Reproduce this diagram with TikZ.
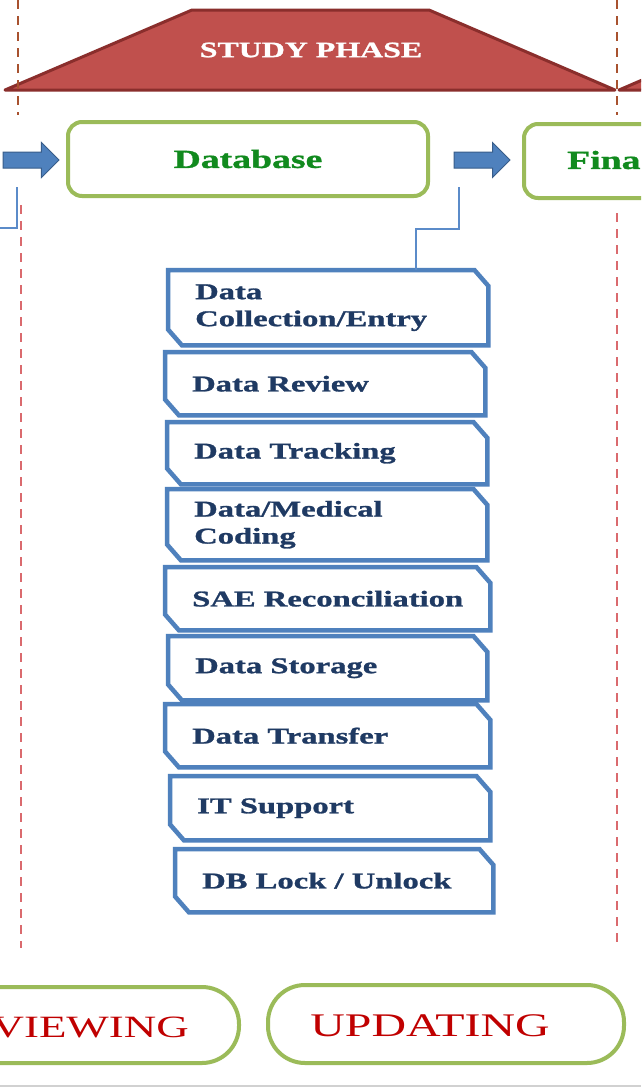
\documentclass[tikz,border=0pt]{standalone}
\usepackage{fontspec}
\setmainfont{Liberation Serif}[FakeStretch=1.45, BoldFeatures={FakeBold=1.2}]
\usetikzlibrary{shapes.arrows}

\definecolor{phasered}{HTML}{C0504D}
\definecolor{phaseedge}{HTML}{8A2E2C}
\definecolor{leafgreen}{HTML}{9BBB59}
\definecolor{labelgreen}{HTML}{118A1E}
\definecolor{taskblue}{HTML}{4F81BD}
\definecolor{linkblue}{HTML}{5B8BC9}
\definecolor{arrowedge}{HTML}{385D8A}
\definecolor{navytext}{HTML}{1F3A63}
\definecolor{stepred}{HTML}{C00000}
\definecolor{guidebrown}{HTML}{A8522F}
\definecolor{guidepink}{HTML}{DA6A6E}

% outline with the top-right and bottom-left corners cut off
\newcommand\snipframe[1]{%
  \draw[taskframe] (#1.north west) -- ([xshift=-14pt]#1.north east)
    -- ([yshift=-16pt]#1.north east) -- (#1.south east)
    -- ([xshift=14pt]#1.south west) -- ([yshift=16pt]#1.south west) -- cycle;}

% one activity box: name, left, top, right, bottom, label
\newcommand\taskitem[6]{%
  \node[taskslot, minimum width=#4-#2, minimum height=#5-#3] (#1) at (#2,#3) {};
  \snipframe{#1}
  \node[tasklabel] (#1txt) at ([xshift=27pt]#1.west) {#6};}

\begin{document}
\begin{tikzpicture}[x=1pt,y=-1pt,
  phase/.style={fill=phasered, draw=phaseedge, line width=3pt, line join=round},
  phasetitle/.style={text=white, font=\fontsize{22}{26}\selectfont\bfseries},
  phasebox/.style={draw=leafgreen, line width=4pt, rounded corners=14pt, fill=white, inner sep=0pt},
  phaselabel/.style={text=labelgreen, font=\fontsize{26}{30}\selectfont\bfseries},
  stepbox/.style={draw=leafgreen, line width=4pt, rounded corners=37pt, inner sep=0pt},
  steplabel/.style={text=stepred, font=\fontsize{33}{37}\selectfont, inner sep=0pt},
  taskslot/.style={rectangle, inner sep=0pt, anchor=north west},
  tasklabel/.style={text=navytext, font=\fontsize{22.5}{27}\selectfont\bfseries,
    align=left, anchor=west, inner sep=0pt},
  taskframe/.style={draw=taskblue, line width=4.5pt, line join=miter},
  link/.style={draw=linkblue, line width=2.2pt},
  blockarrow/.style={single arrow, fill=taskblue, draw=arrowedge, line width=1pt,
    minimum height=56pt, inner xsep=0pt, inner ysep=7.5pt,
    single arrow head extend=9.5pt, single arrow tip angle=90},
  guideup/.style={draw=guidebrown, line width=2.5pt, dash pattern=on 9pt off 7pt},
  guidedown/.style={draw=guidepink, line width=2.5pt, dash pattern=on 9pt off 7pt}]

\fill[white] (0,0) rectangle (641,1088);
\clip (0,0) rectangle (641,1088);

% phase banners
\draw[phase] (5,90) -- (192,10) -- (429,10) -- (615,90) -- cycle;
\draw[phase] (619,90) -- (805,10) -- (900,10) -- (900,90) -- cycle;
\node[phasetitle] (study) at (311,50) {STUDY PHASE};

% phase boundaries
\draw[guideup] (18,0) -- (18,115);
\draw[guideup] (617,0) -- (617,115);
\draw[guidedown] (21,205) -- (21,948);
\draw[guidedown] (617,213) -- (617,945);

% phase steps
\node[blockarrow] (arrA) at (27,160) {};
\node[phasebox, phaselabel, minimum width=360pt, minimum height=74pt] (db) at (248,159) {Database};
\node[blockarrow] (arrB) at (478,160) {};
\node[phasebox, anchor=north west, minimum width=360pt, minimum height=74pt] (final) at (522,122) {};
\node[phaselabel, anchor=west, inner sep=0pt] (finaltxt) at (567,160) {Fina};

% activities
\taskitem{t1}{168}{270}{488}{345}{Data\\Collection/Entry}
\taskitem{t2}{165}{352}{485}{415}{Data Review}
\taskitem{t3}{167}{422}{487}{484}{Data Tracking}
\taskitem{t4}{167}{489}{487}{560}{Data/Medical\\Coding}
\taskitem{t5}{165}{567}{490}{630}{SAE Reconciliation}
\taskitem{t6}{168}{636}{487}{700}{Data Storage}
\taskitem{t7}{165}{704}{490}{767}{Data Transfer}
\taskitem{t8}{170}{776}{490}{840}{IT Support}
\taskitem{t9}{175}{849}{493}{912}{DB Lock / Unlock}

% connectors
\coordinate (lj) at (17,187);
\coordinate (ljend) at (-5,228);
\draw[link] (lj) |- (ljend);
\coordinate (rj) at (459,187);
\draw[link] (rj) -- ++(0,42) -| ([xshift=88pt]t1.north);

% bottom stages
\node[stepbox, minimum width=356pt, minimum height=76pt] (review) at (61,1025) {};
\node[steplabel, anchor=east, font=\fontsize{31}{35}\selectfont] (reviewtxt) at (189,1027) {VIEWING};
\node[stepbox, minimum width=356pt, minimum height=78pt] (update) at (446,1024) {};
\node[steplabel] (updatetxt) at (430,1026) {UPDATING};

\draw[black!18, line width=1.5pt] (0,1086) -- (641,1086);
\end{tikzpicture}
\end{document}
